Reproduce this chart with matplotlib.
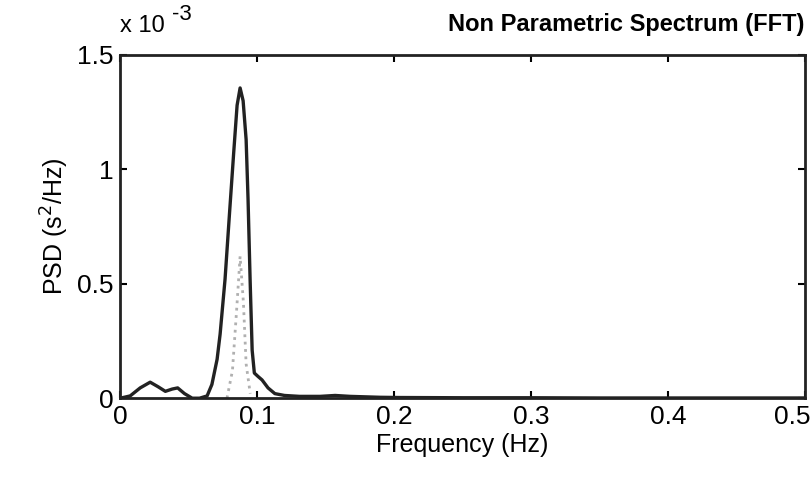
import numpy as np
import matplotlib.pyplot as plt
import matplotlib.transforms as mtransforms

plt.rcParams['font.family'] = ['Liberation Sans', 'DejaVu Sans']

# FFT spectrum (PSD in units of 1e-3 s^2/Hz)
freq = [0.0, 0.0073, 0.0146, 0.0219, 0.0277, 0.033, 0.038, 0.042, 0.047,
        0.0526, 0.058, 0.0635, 0.067, 0.0708, 0.073, 0.0766, 0.080, 0.083,
        0.0854, 0.0876, 0.0898, 0.092, 0.0934, 0.0949, 0.0964, 0.098, 0.1007,
        0.1036, 0.108, 0.113, 0.120, 0.131, 0.146, 0.157, 0.168, 0.19, 0.204,
        0.25, 0.3, 0.35, 0.4, 0.45, 0.5]
psd = [0.0, 0.01, 0.045, 0.07, 0.05, 0.03, 0.04, 0.045, 0.02,
       0.0, 0.0, 0.01, 0.06, 0.17, 0.28, 0.52, 0.82, 1.08,
       1.28, 1.356, 1.30, 1.13, 0.87, 0.52, 0.21, 0.11, 0.095,
       0.08, 0.045, 0.02, 0.012, 0.008, 0.008, 0.012, 0.008, 0.004, 0.003,
       0.002, 0.002, 0.001, 0.001, 0.001, 0.001]

# faint dotted band inside the main peak
freq_b = [0.078, 0.082, 0.085, 0.0876, 0.090, 0.092, 0.095]
psd_b = [0.0, 0.12, 0.38, 0.62, 0.42, 0.15, 0.02]

xticks = [0, 0.1, 0.2, 0.3, 0.4, 0.5]
xtick_labels = ['0', '0.1', '0.2', '0.3', '0.4', '0.5']
yticks = [0, 0.5, 1, 1.5]
ytick_labels = ['0', '0.5', '1', '1.5']

fig = plt.figure(figsize=(8.12, 4.91), dpi=100)
ax = fig.add_axes([0.148, 0.189, 0.843, 0.699])

ax.plot(freq_b, psd_b, color='#b0b0b0', lw=2, ls=':')
ax.plot(freq, psd, color='#222222', lw=2.4)

ax.set_xlim(0, 0.5)
ax.set_ylim(0, 1.5)
ax.set_xticks(xticks)
ax.set_xticklabels(xtick_labels)
ax.set_yticks(yticks)
ax.set_yticklabels(ytick_labels)
ax.tick_params(direction='in', length=5, width=1.5, labelsize=19,
               top=True, right=True, pad=5)
for s in ax.spines.values():
    s.set_linewidth(2)
    s.set_color('#222222')

# keep the last x label inside the figure edge
last = ax.get_xticklabels()[-1]
last.set_horizontalalignment('right')
last.set_transform(last.get_transform() +
                   mtransforms.ScaledTranslation(6 / 100, 0, fig.dpi_scale_trans))

ax.set_xlabel('Frequency (Hz)', fontsize=18, labelpad=3)
ax.set_ylabel('PSD (s$^2$/Hz)', fontsize=18, labelpad=4)

fig.text(0.148, 0.925, 'x 10', fontsize=17, ha='left', va='bottom')
fig.text(0.212, 0.950, '-3', fontsize=16, ha='left', va='bottom')
ax.set_title('Non Parametric Spectrum (FFT)', fontsize=17, fontweight='bold',
             loc='right', pad=17)

fig.savefig('out.png', dpi=100)
